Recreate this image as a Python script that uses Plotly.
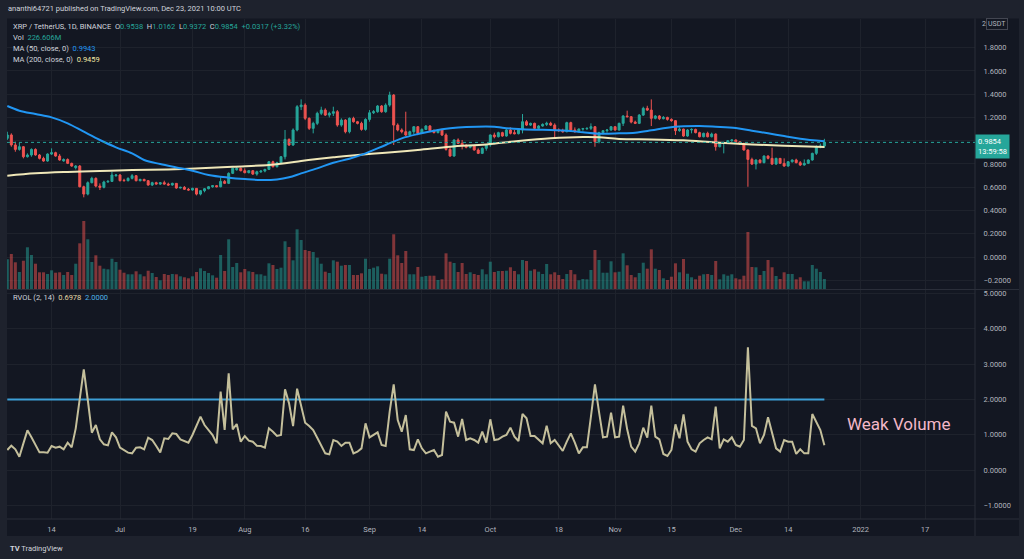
import plotly.graph_objects as go
import pandas as pd

# ---------------- data ----------------
start_date = "2021-06-03"
n_days = 204
dates = pd.date_range(start_date, periods=n_days, freq="D")

opens = [1.020,1.049,0.963,0.925,0.948,0.862,0.877,0.925,0.877,0.848,
         0.825,0.885,0.897,0.868,0.826,0.838,0.805,0.768,0.782,0.604,
         0.541,0.639,0.676,0.610,0.599,0.645,0.650,0.699,0.705,0.660,
         0.656,0.676,0.699,0.656,0.667,0.656,0.619,0.639,0.627,0.639,
         0.627,0.619,0.633,0.593,0.599,0.582,0.576,0.590,0.541,0.570,
         0.587,0.604,0.613,0.604,0.650,0.633,0.719,0.750,0.762,0.742,
         0.725,0.742,0.713,0.733,0.739,0.753,0.819,0.776,0.811,0.862,
         1.011,0.963,1.092,1.292,1.306,1.192,1.106,1.149,1.235,1.263,
         1.220,1.235,1.249,1.134,1.177,1.077,1.192,1.163,1.149,1.097,
         1.183,1.240,1.249,1.298,1.249,1.306,1.392,1.134,1.092,1.077,
         1.049,1.077,1.120,1.063,1.097,1.126,1.086,1.069,1.092,1.049,
         0.925,0.868,1.006,0.977,0.960,0.943,0.954,0.920,0.891,0.934,
         0.963,1.049,1.034,1.069,1.040,1.092,1.069,1.060,1.092,1.163,
         1.134,1.149,1.106,1.126,1.140,1.149,1.134,1.092,1.086,1.077,
         1.155,1.092,1.077,1.100,1.103,1.106,1.120,0.991,1.069,1.086,
         1.092,1.120,1.092,1.149,1.212,1.206,1.160,1.149,1.220,1.278,
         1.263,1.192,1.212,1.189,1.200,1.183,1.172,1.086,1.100,1.040,
         1.092,1.097,1.069,1.034,1.063,1.034,1.057,0.948,0.977,0.985,
         1.000,1.006,0.991,0.971,0.920,0.839,0.799,0.834,0.811,0.868,
         0.848,0.799,0.848,0.805,0.782,0.819,0.834,0.811,0.791,0.805,
         0.834,0.891,0.948,0.9538]

highs = [1.077,1.063,0.991,0.983,0.954,0.891,0.934,0.934,0.885,0.862,
         0.891,0.934,0.905,0.885,0.848,0.848,0.811,0.791,0.791,0.613,
         0.650,0.690,0.685,0.633,0.656,0.662,0.733,0.713,0.713,0.673,
         0.685,0.713,0.705,0.673,0.673,0.662,0.647,0.647,0.645,0.656,
         0.639,0.639,0.636,0.604,0.610,0.593,0.596,0.593,0.576,0.593,
         0.610,0.619,0.619,0.685,0.662,0.728,0.770,0.776,0.770,0.762,
         0.748,0.748,0.742,0.745,0.759,0.825,0.828,0.819,0.868,1.092,
         1.020,1.106,1.306,1.355,1.321,1.200,1.163,1.249,1.292,1.278,
         1.249,1.292,1.263,1.192,1.185,1.200,1.206,1.170,1.163,1.192,
         1.263,1.263,1.306,1.306,1.321,1.421,1.400,1.149,1.106,1.249,
         1.086,1.126,1.126,1.106,1.134,1.134,1.097,1.100,1.097,1.063,
         0.943,1.011,1.020,1.006,0.971,0.963,0.960,0.934,0.943,0.971,
         1.054,1.069,1.077,1.077,1.100,1.114,1.092,1.100,1.229,1.177,
         1.155,1.155,1.134,1.149,1.163,1.163,1.149,1.106,1.103,1.163,
         1.163,1.114,1.106,1.110,1.114,1.149,1.126,1.077,1.092,1.100,
         1.126,1.126,1.155,1.220,1.258,1.212,1.172,1.229,1.292,1.300,
         1.355,1.220,1.220,1.212,1.206,1.192,1.177,1.114,1.103,1.100,
         1.106,1.103,1.077,1.069,1.077,1.069,1.063,0.983,0.990,1.006,
         1.011,1.011,0.997,0.983,0.925,0.854,0.839,0.840,0.874,0.874,
         0.940,0.854,0.850,0.848,0.825,0.839,0.845,0.825,0.839,0.839,
         0.897,0.960,0.975,1.0162]

lows = [1.006,0.948,0.905,0.914,0.848,0.855,0.862,0.871,0.839,0.819,
        0.819,0.877,0.862,0.828,0.819,0.799,0.776,0.753,0.599,0.513,
        0.530,0.633,0.599,0.576,0.590,0.639,0.645,0.690,0.650,0.650,
        0.650,0.667,0.650,0.650,0.650,0.613,0.610,0.622,0.619,0.622,
        0.613,0.613,0.587,0.590,0.576,0.570,0.570,0.530,0.530,0.556,
        0.582,0.596,0.599,0.599,0.627,0.627,0.713,0.742,0.736,0.719,
        0.719,0.705,0.699,0.722,0.728,0.748,0.770,0.770,0.805,0.839,
        0.954,0.954,1.080,1.263,1.177,1.092,1.063,1.134,1.220,1.212,
        1.200,1.212,1.120,1.120,1.063,1.063,1.155,1.140,1.086,1.086,
        1.163,1.229,1.240,1.240,1.240,1.292,0.963,1.080,1.063,1.040,
        1.040,1.054,1.054,1.057,1.092,1.077,1.063,1.063,1.040,0.914,
        0.862,0.862,0.971,0.925,0.934,0.934,0.914,0.885,0.885,0.914,
        0.948,1.020,1.028,1.034,1.034,1.054,1.054,1.054,1.063,1.126,
        1.126,1.100,1.100,1.120,1.126,1.126,1.020,1.077,1.069,1.072,
        1.086,1.069,1.072,1.086,1.092,1.092,0.948,0.977,1.054,1.069,
        1.086,1.086,1.086,1.126,1.200,1.149,1.143,1.143,1.212,1.255,
        1.126,1.183,1.177,1.183,1.172,1.163,1.049,1.077,1.034,1.034,
        1.063,1.063,1.028,1.028,1.028,1.028,0.914,0.943,0.891,0.971,
        0.985,0.985,0.965,0.914,0.604,0.791,0.753,0.805,0.805,0.839,
        0.791,0.791,0.799,0.776,0.776,0.811,0.805,0.782,0.785,0.799,
        0.828,0.877,0.935,0.9372]

closes = [1.049,0.963,0.925,0.948,0.862,0.877,0.925,0.877,0.848,0.825,
          0.885,0.897,0.868,0.834,0.838,0.805,0.782,0.782,0.604,0.541,
          0.639,0.676,0.610,0.599,0.645,0.650,0.705,0.705,0.656,0.656,
          0.676,0.699,0.656,0.667,0.656,0.619,0.639,0.627,0.639,0.627,
          0.619,0.633,0.593,0.599,0.582,0.576,0.590,0.541,0.570,0.587,
          0.604,0.613,0.604,0.650,0.633,0.719,0.762,0.762,0.742,0.725,
          0.742,0.713,0.733,0.739,0.753,0.819,0.776,0.811,0.862,1.011,
          0.963,1.092,1.292,1.306,1.192,1.106,1.149,1.235,1.263,1.220,
          1.235,1.249,1.134,1.177,1.077,1.192,1.163,1.149,1.097,1.183,
          1.240,1.249,1.298,1.249,1.306,1.392,1.134,1.092,1.077,1.049,
          1.077,1.120,1.063,1.097,1.126,1.086,1.069,1.092,1.049,0.925,
          0.868,1.006,0.977,0.960,0.943,0.954,0.920,0.891,0.934,0.963,
          1.049,1.034,1.069,1.040,1.092,1.063,1.060,1.092,1.163,1.134,
          1.149,1.106,1.126,1.140,1.149,1.134,1.092,1.086,1.077,1.155,
          1.092,1.077,1.100,1.103,1.106,1.120,0.991,1.069,1.086,1.092,
          1.120,1.092,1.149,1.212,1.206,1.160,1.149,1.220,1.278,1.263,
          1.192,1.212,1.189,1.200,1.183,1.172,1.086,1.100,1.040,1.092,
          1.097,1.069,1.034,1.063,1.034,1.057,0.948,0.977,0.985,1.000,
          1.006,0.991,0.971,0.920,0.839,0.799,0.834,0.811,0.868,0.848,
          0.799,0.848,0.805,0.782,0.819,0.834,0.811,0.791,0.805,0.834,
          0.891,0.948,0.9538,0.9854]

# volume in millions
volume_m = [674,795,606,386,642,947,772,574,379,379,
            341,424,370,379,318,386,318,574,1037,1544,
            1128,613,765,529,461,447,688,613,438,370,
            334,334,402,334,288,415,363,272,197,341,
            318,341,334,288,266,243,288,386,470,409,
            363,311,257,772,409,1128,499,590,379,454,
            402,386,334,334,302,583,545,454,484,1083,
            953,651,1355,1112,885,863,840,711,574,393,
            363,651,620,529,545,545,318,318,356,688,
            454,484,515,347,334,688,1242,765,590,863,
            334,334,499,279,295,302,302,204,220,810,
            620,590,386,590,341,379,341,318,447,334,
            620,386,409,409,415,493,409,334,658,636,
            415,447,393,341,568,334,379,318,227,341,
            431,334,197,227,220,431,885,658,370,370,
            629,379,393,810,538,318,266,363,597,461,
            901,461,431,243,204,279,583,379,681,347,
            266,220,302,334,341,318,636,220,334,302,
            334,243,220,302,1294,499,493,318,409,658,
            493,295,227,379,341,341,220,266,175,175,
            545,461,386,226.606]

rvol = [0.566,0.689,0.585,0.377,0.755,1.123,0.925,0.708,0.500,0.500,
        0.491,0.680,0.632,0.661,0.585,0.774,0.642,1.180,1.983,2.851,
        1.983,1.057,1.274,0.868,0.727,0.698,1.067,0.925,0.632,0.566,
        0.491,0.472,0.632,0.642,0.585,0.916,0.849,0.680,0.500,0.897,
        0.878,1.038,1.019,0.868,0.831,0.774,0.991,1.274,1.513,1.274,
        1.133,0.991,0.755,2.219,1.133,2.738,1.152,1.303,0.802,0.963,
        0.831,0.802,0.689,0.680,0.632,1.180,1.085,0.963,0.991,2.285,
        1.888,1.246,2.304,1.794,1.340,1.246,1.133,0.916,0.689,0.472,
        0.443,0.849,0.802,0.680,0.774,0.774,0.472,0.519,0.613,1.322,
        0.925,0.991,1.067,0.708,0.680,1.652,2.426,1.416,1.085,1.558,
        0.585,0.566,0.868,0.614,0.472,0.520,0.567,0.378,0.425,1.653,
        1.370,1.341,0.945,1.445,0.850,0.897,0.850,0.775,1.086,0.775,
        1.436,0.850,0.869,0.945,0.992,1.200,0.945,0.822,1.587,1.464,
        0.963,0.963,0.869,0.756,1.256,0.756,0.850,0.708,0.539,0.803,
        1.039,0.775,0.472,0.642,0.642,1.511,2.427,1.653,0.926,0.945,
        1.624,0.926,0.945,1.823,1.152,0.661,0.520,0.756,1.200,0.916,
        1.823,0.945,0.869,0.454,0.397,0.567,1.294,0.897,1.577,0.803,
        0.586,0.520,0.756,0.850,0.926,0.869,1.794,0.614,0.869,0.803,
        0.926,0.708,0.661,0.850,3.475,1.247,1.181,0.756,0.992,1.492,
        1.086,0.614,0.520,0.850,0.803,0.803,0.454,0.586,0.472,0.472,
        1.587,1.370,1.133,0.6978]
rvol_level = 2.0

ma50_idx = [0,3,7,11,15,19,23,27,31,34,38,42,46,50,55,59,63,67,70,73,
            77,81,85,89,94,98,102,106,110,114,121,123,127,131,135,139,143,147,152,156,
            160,164,168,172,176,181,185,189,193,197,203]
ma50_val = [1.298,1.258,1.229,1.200,1.149,1.077,1.006,0.943,0.891,0.834,
            0.799,0.770,0.742,0.705,0.682,0.670,0.662,0.667,0.685,0.719,
            0.762,0.811,0.845,0.891,0.963,1.020,1.057,1.086,1.106,1.117,
            1.120,1.112,1.100,1.094,1.092,1.086,1.072,1.060,1.063,1.069,
            1.089,1.112,1.123,1.126,1.120,1.109,1.086,1.063,1.040,1.017,0.9943]
ma200_idx = [0,7,15,23,31,40,48,56,65,69,73,77,81,85,94,102,110,119,127,135,
             143,147,152,160,168,176,185,193,203]
ma200_val = [0.699,0.719,0.731,0.739,0.748,0.753,0.762,0.776,0.791,0.805,
             0.825,0.842,0.857,0.871,0.897,0.920,0.948,0.968,0.997,1.020,
             1.031,1.029,1.014,1.011,1.003,0.985,0.968,0.957,0.9459]

last_change_text = "+0.0317 (+3.32%)"
countdown_text = "13:59:58"

price_ticks = [-0.2, 0.0, 0.2, 0.4, 0.6, 0.8, 1.0, 1.2, 1.4, 1.6, 1.8]
rvol_ticks = [-1, 0, 1, 2, 3, 4, 5]
time_tick_dates = ["2021-06-14", "2021-07-01", "2021-07-19", "2021-08-01", "2021-08-16",
                   "2021-09-01", "2021-09-14", "2021-10-01", "2021-10-18", "2021-11-01",
                   "2021-11-15", "2021-12-01", "2021-12-14", "2022-01-01", "2022-01-17"]
time_tick_text = ["14", "Jul", "19", "Aug", "16", "Sep", "14", "Oct", "18", "Nov",
                  "15", "Dec", "14", "2022", "17"]

for arr in (opens, highs, lows, closes, volume_m, rvol):
    assert len(arr) == n_days, len(arr)

# ---------------- styling / layout ----------------
W, H = 1024, 559
PL, PR, PT, PB = 7, 975, 19, 519


def px(x):
    return (x - PL) / (PR - PL)


def py(y):
    return (PB - y) / (PB - PT)


TEAL = "#26a69a"
RED = "#ef5350"
GRID = "#1e222c"
SEP = "#2a2e39"
TXT = "#d1d4dc"
AX = "#b2b5be"
FONT = "Roboto"


def fmt(v):
    return ("\u2212%.4f" % -v) if v < 0 else ("%.4f" % v)


vol_colors = ["rgba(38,166,154,0.5)" if c >= o else "rgba(239,83,80,0.5)"
              for o, c in zip(opens, closes)]

fig = go.Figure()
fig.add_trace(go.Bar(x=dates, y=volume_m, marker=dict(color=vol_colors, line=dict(width=0)),
                     xaxis="x", yaxis="y", hoverinfo="skip"))
fig.add_trace(go.Candlestick(x=dates, open=opens, high=highs, low=lows, close=closes,
                             increasing=dict(line=dict(color=TEAL, width=1), fillcolor=TEAL),
                             decreasing=dict(line=dict(color=RED, width=1), fillcolor=RED),
                             whiskerwidth=0, xaxis="x", yaxis="y3", hoverinfo="skip"))
fig.add_trace(go.Scatter(x=[dates[i] for i in ma200_idx], y=ma200_val, mode="lines",
                         line=dict(color="#efe7b8", width=2, shape="spline"),
                         xaxis="x", yaxis="y3", hoverinfo="skip"))
fig.add_trace(go.Scatter(x=[dates[i] for i in ma50_idx], y=ma50_val, mode="lines",
                         line=dict(color="#2196f3", width=2, shape="spline"),
                         xaxis="x", yaxis="y3", hoverinfo="skip"))
fig.add_trace(go.Scatter(x=[dates[0], dates[-1]], y=[rvol_level, rvol_level], mode="lines",
                         line=dict(color="#3d9fd6", width=2),
                         xaxis="x2", yaxis="y2", hoverinfo="skip"))
fig.add_trace(go.Scatter(x=dates, y=rvol, mode="lines",
                         line=dict(color="#c4bf9b", width=2),
                         xaxis="x2", yaxis="y2", hoverinfo="skip"))

x_range = ["2021-06-02 22:12", "2022-01-29 10:05"]
vol_axis_max = 270 * 22.7

fig.update_layout(
    width=W, height=H,
    margin=dict(l=PL, r=W - PR, t=PT, b=H - PB, pad=0),
    paper_bgcolor="#1e222d", plot_bgcolor="#131722",
    showlegend=False, bargap=0.25, hovermode=False,
    font=dict(family=FONT, color=AX, size=7.5),
    xaxis=dict(domain=[0, 1], anchor="y", type="date", range=x_range,
               tickvals=time_tick_dates, showticklabels=False, ticks="",
               showgrid=True, gridcolor=GRID, gridwidth=1, zeroline=False,
               rangeslider=dict(visible=False), showline=False),
    xaxis2=dict(domain=[0, 1], anchor="y2", type="date", range=x_range, matches="x",
                tickvals=time_tick_dates, ticktext=time_tick_text,
                ticks="outside", ticklen=3, tickcolor="rgba(0,0,0,0)",
                tickfont=dict(family=FONT, size=7.5, color=AX),
                showgrid=True, gridcolor=GRID, gridwidth=1, zeroline=False, showline=False),
    yaxis=dict(domain=[0.46, 1], range=[0, vol_axis_max], visible=False, fixedrange=True),
    yaxis3=dict(overlaying="y", anchor="x", side="right", range=[-0.275, 2.046],
                tickvals=price_ticks,
                ticktext=["" if abs(v - 1.0) < 1e-9 else fmt(v) for v in price_ticks],
                ticks="outside", ticklen=6, tickcolor="rgba(0,0,0,0)",
                tickfont=dict(family=FONT, size=7.5, color=AX),
                showgrid=True, gridcolor=GRID, gridwidth=1, zeroline=False, showline=False),
    yaxis2=dict(domain=[0, 0.458], anchor="x2", side="right", range=[-1.388, 5.099],
                tickvals=rvol_ticks, ticktext=[fmt(v) for v in rvol_ticks],
                ticks="outside", ticklen=6, tickcolor="rgba(0,0,0,0)",
                tickfont=dict(family=FONT, size=7.5, color=AX),
                showgrid=True, gridcolor=GRID, gridwidth=1, zeroline=False, showline=False),
)

# chart frame and separators
fig.add_shape(type="rect", xref="paper", yref="paper", x0=px(7), x1=px(1019), y0=py(536), y1=py(18.5),
              fillcolor="#131722", line=dict(width=0), layer="below")
fig.add_shape(type="line", xref="paper", yref="paper", x0=1, x1=1, y0=py(536), y1=py(18.5),
              line=dict(color=SEP, width=1))
fig.add_shape(type="line", xref="paper", yref="paper", x0=0, x1=px(1019), y0=py(289.5), y1=py(289.5),
              line=dict(color=SEP, width=1))
fig.add_shape(type="line", xref="paper", yref="paper", x0=0, x1=px(1019), y0=0, y1=0,
              line=dict(color=SEP, width=1))
# last price dotted line
fig.add_shape(type="line", xref="paper", yref="y3", x0=0, x1=1, y0=closes[-1], y1=closes[-1],
              line=dict(color=TEAL, width=1, dash="dot"))


def ann(text, x, y, size=7.5, color=TXT, xanchor="left", **kw):
    fig.add_annotation(text=text, x=px(x), y=py(y), xref="paper", yref="paper",
                       xanchor=xanchor, yanchor="middle", showarrow=False,
                       font=dict(family=FONT, size=size, color=color), **kw)


def col(t, c):
    return "<span style='color:%s'>%s</span>" % (c, t)


sp = "\u00a0\u00a0"
ann("ananthi64721 published on TradingView.com, Dec 23, 2021 10:00 UTC", 6, 9)
ann("XRP / TetherUS, 1D, BINANCE" + sp + "O" + col("%.4f" % opens[-1], TEAL) + sp
    + "H" + col("%.4f" % highs[-1], TEAL) + sp + "L" + col("%.4f" % lows[-1], TEAL) + sp
    + "C" + col("%.4f" % closes[-1], TEAL) + sp + col(last_change_text, TEAL), 11, 26)
ann("Vol" + sp + col("%.3fM" % volume_m[-1], TEAL), 11, 37)
ann("MA (50, close, 0)" + sp + col("%.4f" % ma50_val[-1], "#2196f3"), 11, 48.5)
ann("MA (200, close, 0)" + sp + col("%.4f" % ma200_val[-1], "#f5e9a6"), 11, 60)
ann("RVOL (2, 14)" + sp + col("%.4f" % rvol[-1], "#e3d9a6") + sp + col("%.4f" % rvol_level, "#4fb3e6"), 11, 297.5)
ann("Weak Volume", 899, 424, size=17, color="#f4b8c8", xanchor="center")
ann("<b>TV</b> TradingView", 8, 548, size=7.5, color=TXT)

# right axis extras
fig.add_annotation(text="2", x=px(980), y=2.0, xref="paper", yref="y3", xanchor="left",
                   yanchor="middle", showarrow=False, font=dict(family=FONT, size=7, color=AX))
fig.add_annotation(text="USDT", x=px(986), y=2.0, xref="paper", yref="y3", xanchor="left",
                   yanchor="middle", showarrow=False, bordercolor="#434651", borderwidth=1,
                   borderpad=1, bgcolor="#131722", font=dict(family=FONT, size=7, color=AX))
fig.add_annotation(text="%.4f<br>%s" % (closes[-1], countdown_text), x=1.0, y=closes[-1],
                   xref="paper", yref="y3", xanchor="left", yanchor="middle", yshift=-4,
                   showarrow=False, align="left", bgcolor=TEAL, borderpad=2,
                   font=dict(family=FONT, size=7.5, color="#ffffff"))

fig.write_html("out.html", config={"displayModeBar": False},
               post_script="document.body.style.margin='0';document.body.style.padding='0';")
